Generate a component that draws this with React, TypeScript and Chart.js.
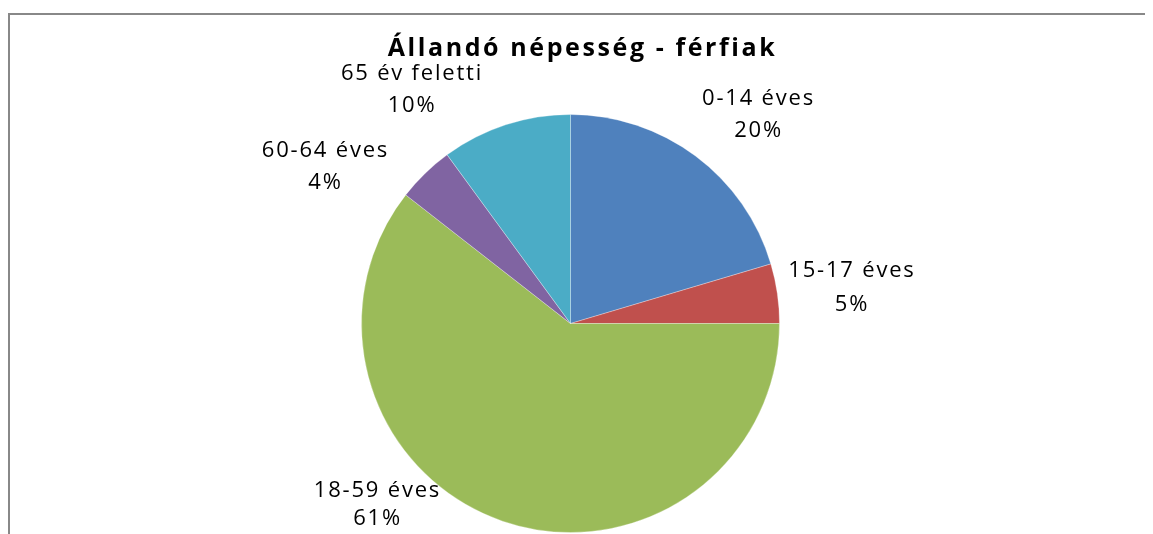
import React, { useEffect, useRef } from "react";
import { Chart, registerables } from "chart.js";

Chart.register(...registerables);

const TITLE = "Állandó népesség - férfiak";
const CATEGORIES = ["0-14 éves", "15-17 éves", "18-59 éves", "60-64 éves", "65 év feletti"];
const VALUES = [20.4, 4.6, 60.55, 4.4, 10.05];
const COLORS = ["#4F81BD", "#C0504D", "#9BBB59", "#8064A2", "#4BACC6"];
// label placement relative to pie centre: [dx, baseline line 1, baseline line 2]
const LABEL_OFFSETS: [number, number, number][] = [
  [188, -218.5, -186.8],
  [281.5, -46.2, -12.8],
  [-193, 173.2, 201.5],
  [-245, -166.8, -134.2],
  [-158.5, -243.5, -211.8],
];

const FONT = '"Open Sans", "Liberation Sans", sans-serif';

const overlayPlugin = {
  id: "overlay",
  afterDraw(chart: any) {
    const ctx = chart.ctx as CanvasRenderingContext2D;
    const meta = chart.getDatasetMeta(0);
    const total = VALUES.reduce((a, b) => a + b, 0);
    const arc0 = meta.data[0];
    const cx = arc0.x;
    const cy = arc0.y;
    ctx.save();
    // frame
    ctx.strokeStyle = "#888888";
    ctx.lineWidth = 2;
    ctx.beginPath();
    ctx.moveTo(1, 5);
    ctx.lineTo(1, chart.height);
    ctx.moveTo(0, 6);
    ctx.lineTo(chart.width, 6);
    ctx.stroke();
    // title
    ctx.fillStyle = "#000";
    ctx.textAlign = "center";
    ctx.textBaseline = "alphabetic";
    ctx.font = `bold 25px ${FONT}`;
    (ctx as any).letterSpacing = "2.6px";
    ctx.fillText(TITLE, cx + 12, cy - 267.5);

    // data labels
    ctx.font = `22px ${FONT}`;
    (ctx as any).letterSpacing = "1.8px";
    CATEGORIES.forEach((cat, i) => {
      const [dx, dy1, dy2] = LABEL_OFFSETS[i];
      const pct = Math.round((VALUES[i] / total) * 100) + "%";
      ctx.fillText(cat, cx + dx, cy + dy1);
      ctx.fillText(pct, cx + dx, cy + dy2);
    });
    ctx.restore();
  },
};

export default function App() {
  const ref = useRef<HTMLCanvasElement | null>(null);
  useEffect(() => {
    document.documentElement.style.overflow = "hidden";
    if (!ref.current) return;
    const chart = new Chart(ref.current, {
      type: "pie",
      data: {
        labels: CATEGORIES,
        datasets: [
          {
            data: VALUES,
            backgroundColor: COLORS,
            borderColor: "rgba(255,255,255,0.6)",
            borderWidth: 0.5,
          },
        ],
      },
      options: {
        animation: false,
        responsive: true,
        maintainAspectRatio: false,
        radius: 209,
        layout: { padding: { left: 0, right: 20, top: 105, bottom: 0 } },
        plugins: {
          legend: { display: false },
          title: { display: false },
          tooltip: { enabled: false },
        },
      } as any,
      plugins: [overlayPlugin],
    });
    return () => chart.destroy();
  }, []);
  return (
    <div style={{ position: "relative", width: 1145, height: 526 }}>
      <canvas ref={ref} />
    </div>
  );
}
